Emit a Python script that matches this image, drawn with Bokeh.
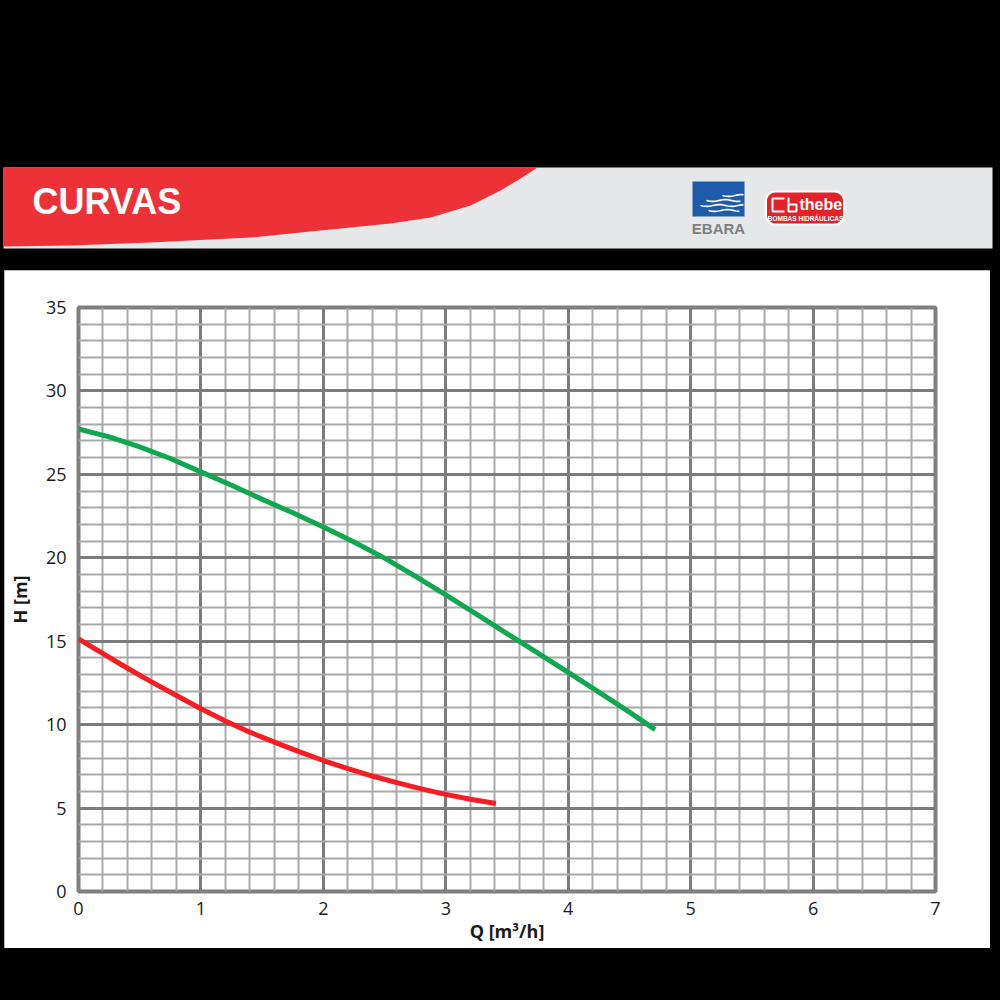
import numpy as np
from bokeh.plotting import figure
from bokeh.models import Range1d, FixedTicker, ColumnDataSource
from bokeh.core.properties import value
from bokeh.embed import file_html
from bokeh.resources import INLINE

# ---------------- data ----------------
title_text = "CURVAS"
x_label = "Q [m³/h]"
y_label = "H [m]"
q_ticks = [0, 1, 2, 3, 4, 5, 6, 7]
h_ticks = [0, 5, 10, 15, 20, 25, 30, 35]

q_green = [0, 0.25, 0.5, 0.75, 1.0, 1.25, 1.5, 1.75, 2.0, 2.25, 2.5, 2.75, 3.0,
           3.25, 3.5, 3.75, 4.0, 4.25, 4.5, 4.71]
h_green = [27.72, 27.25, 26.65, 25.95, 25.15, 24.35, 23.5, 22.7, 21.85, 20.95,
           19.98, 18.9, 17.78, 16.62, 15.45, 14.3, 13.13, 11.95, 10.75, 9.7]

q_red = [0, 0.2, 0.4, 0.6, 0.8, 1.0, 1.2, 1.4, 1.6, 1.8, 2.0, 2.2, 2.4, 2.6,
         2.8, 3.0, 3.2, 3.41]
h_red = [15.14, 14.25, 13.38, 12.55, 11.75, 10.95, 10.22, 9.55, 8.95, 8.38,
         7.85, 7.36, 6.92, 6.52, 6.15, 5.82, 5.53, 5.27]

FONT = "Open Sans"

# ---------------- header (data coords = page pixels) ----------------
head = figure(width=1000, height=270, x_range=Range1d(0, 1000), y_range=Range1d(270, 0),
              output_backend="svg", toolbar_location=None, min_border=0,
              x_axis_location=None, y_axis_location=None,
              background_fill_color="black", border_fill_color="black",
              outline_line_color=None)
head.grid.visible = False

head.quad(left=[3], right=[992], top=[167], bottom=[248], fill_color="#e6e7e8", line_color=None)
red_x = [3, 537, 520, 500, 470, 430, 390, 300, 250, 150, 70, 3]
red_y = [167, 167, 178, 190, 205, 217, 223, 232, 237, 242, 245, 246]
head.patch(red_x, red_y, fill_color="#ec3237", line_color=None)

head.text(x=[32], y=[201], text=[title_text], text_font=value("Liberation Sans"),
          text_font_size="36px", text_font_style="bold", text_color="white",
          text_baseline="alphabetic", text_align="left")

# EBARA logo
head.quad(left=[692], right=[744], top=[181], bottom=[216], fill_color="#1f5ba8", line_color=None)
wx, wy = [], []
for y0, x0, x1 in [(195, 722, 743), (200, 706, 740), (205, 700, 743), (210, 708, 739)]:
    t = np.linspace(x0, x1, 20)
    wx.append(list(t))
    wy.append(list(y0 + 0.9 * np.sin((t - x0) / 4.0)))
head.multi_line(wx, wy, line_color="white", line_width=1.6)
head.text(x=[718], y=[228], text=["EBARA"], text_font=value("Liberation Sans"),
          text_font_size="15px", text_font_style="bold", text_color="#7d7f82",
          text_baseline="alphabetic", text_align="center")


def rounded(cx, cy, w, h, r):
    xs, ys = [], []
    corners = [(cx + w / 2 - r, cy - h / 2 + r, -90, 0), (cx + w / 2 - r, cy + h / 2 - r, 0, 90),
               (cx - w / 2 + r, cy + h / 2 - r, 90, 180), (cx - w / 2 + r, cy - h / 2 + r, 180, 270)]
    for ccx, ccy, a0, a1 in corners:
        a = np.radians(np.linspace(a0, a1, 10))
        xs += list(ccx + r * np.cos(a))
        ys += list(ccy + r * np.sin(a))
    return xs, ys


ox, oy = rounded(804.5, 207.5, 80, 35, 10)
head.patch(ox, oy, fill_color="white", line_color=None)
ix, iy = rounded(804.5, 207.5, 76, 31, 8.5)
head.patch(ix, iy, fill_color="#e42229", line_color=None)
head.multi_line([[784, 772, 772, 784], [788, 788, 796, 796, 788]],
                [[198, 198, 211, 211], [197, 211, 211, 204, 204]],
                line_color="white", line_width=2)
head.text(x=[799], y=[204], text=["thebe"], text_font=value("Liberation Sans"),
          text_font_size="16px", text_font_style="bold", text_color="white",
          text_baseline="alphabetic", text_align="left")
head.text(x=[805], y=[218], text=["BOMBAS HIDRÁULICAS"], text_font=value("Liberation Sans"),
          text_font_size="6.5px", text_font_style="bold", text_color="white",
          text_baseline="alphabetic", text_align="center")

# ---------------- chart ----------------
chart = figure(width=986, height=678, x_range=Range1d(0, 7), y_range=Range1d(0, 35),
               output_backend="svg", toolbar_location=None,
               min_border_left=74, min_border_right=55, min_border_top=37, min_border_bottom=57,
               background_fill_color="white", border_fill_color="white",
               styles={"margin-left": "4px", "outline": "2px solid #9e9e9e",
                       "outline-offset": "-2px"})

xt = FixedTicker(ticks=q_ticks, minor_ticks=list(np.round(np.arange(0, 7.01, 0.2), 2)))
yt = FixedTicker(ticks=h_ticks, minor_ticks=list(np.arange(0, 36, 1)))
chart.xaxis.ticker = xt
chart.yaxis.ticker = yt
chart.xgrid.ticker = xt
chart.ygrid.ticker = yt

for g in (chart.xgrid, chart.ygrid):
    g.grid_line_color = "#7b7b7b"
    g.grid_line_width = 3
    g.minor_grid_line_color = "#a9a9a9"
    g.minor_grid_line_width = 2

chart.outline_line_color = "#7f7f7f"
chart.outline_line_width = 4
chart.outline_line_alpha = 1

for ax in (chart.xaxis, chart.yaxis):
    ax.axis_line_color = None
    ax.major_tick_line_color = None
    ax.minor_tick_line_color = None
    ax.major_label_text_font = FONT
    ax.major_label_text_font_size = "18px"
    ax.major_label_text_color = "#1a1a1a"
    ax.axis_label_text_font = FONT
    ax.axis_label_text_font_size = "18px"
    ax.axis_label_text_font_style = "bold"
    ax.axis_label_text_color = "#1a1a1a"

chart.xaxis.axis_label = x_label
chart.yaxis.axis_label = y_label
chart.xaxis.major_label_standoff = 4
chart.yaxis.major_label_standoff = 6
chart.xaxis.axis_label_standoff = 1
chart.yaxis.axis_label_standoff = 11

src_g = ColumnDataSource(dict(q=q_green, h=h_green))
src_r = ColumnDataSource(dict(q=q_red, h=h_red))
chart.line("q", "h", source=src_g, line_color="#10a84f", line_width=5, line_join="round")
chart.line("q", "h", source=src_r, line_color="#f81c24", line_width=5, line_join="round")

html = file_html([head, chart], INLINE, title="Curvas")
html = html.replace("<head>", "<head><style>html,body{background:#000;}</style>", 1)
open("out.html", "w").write(html)
